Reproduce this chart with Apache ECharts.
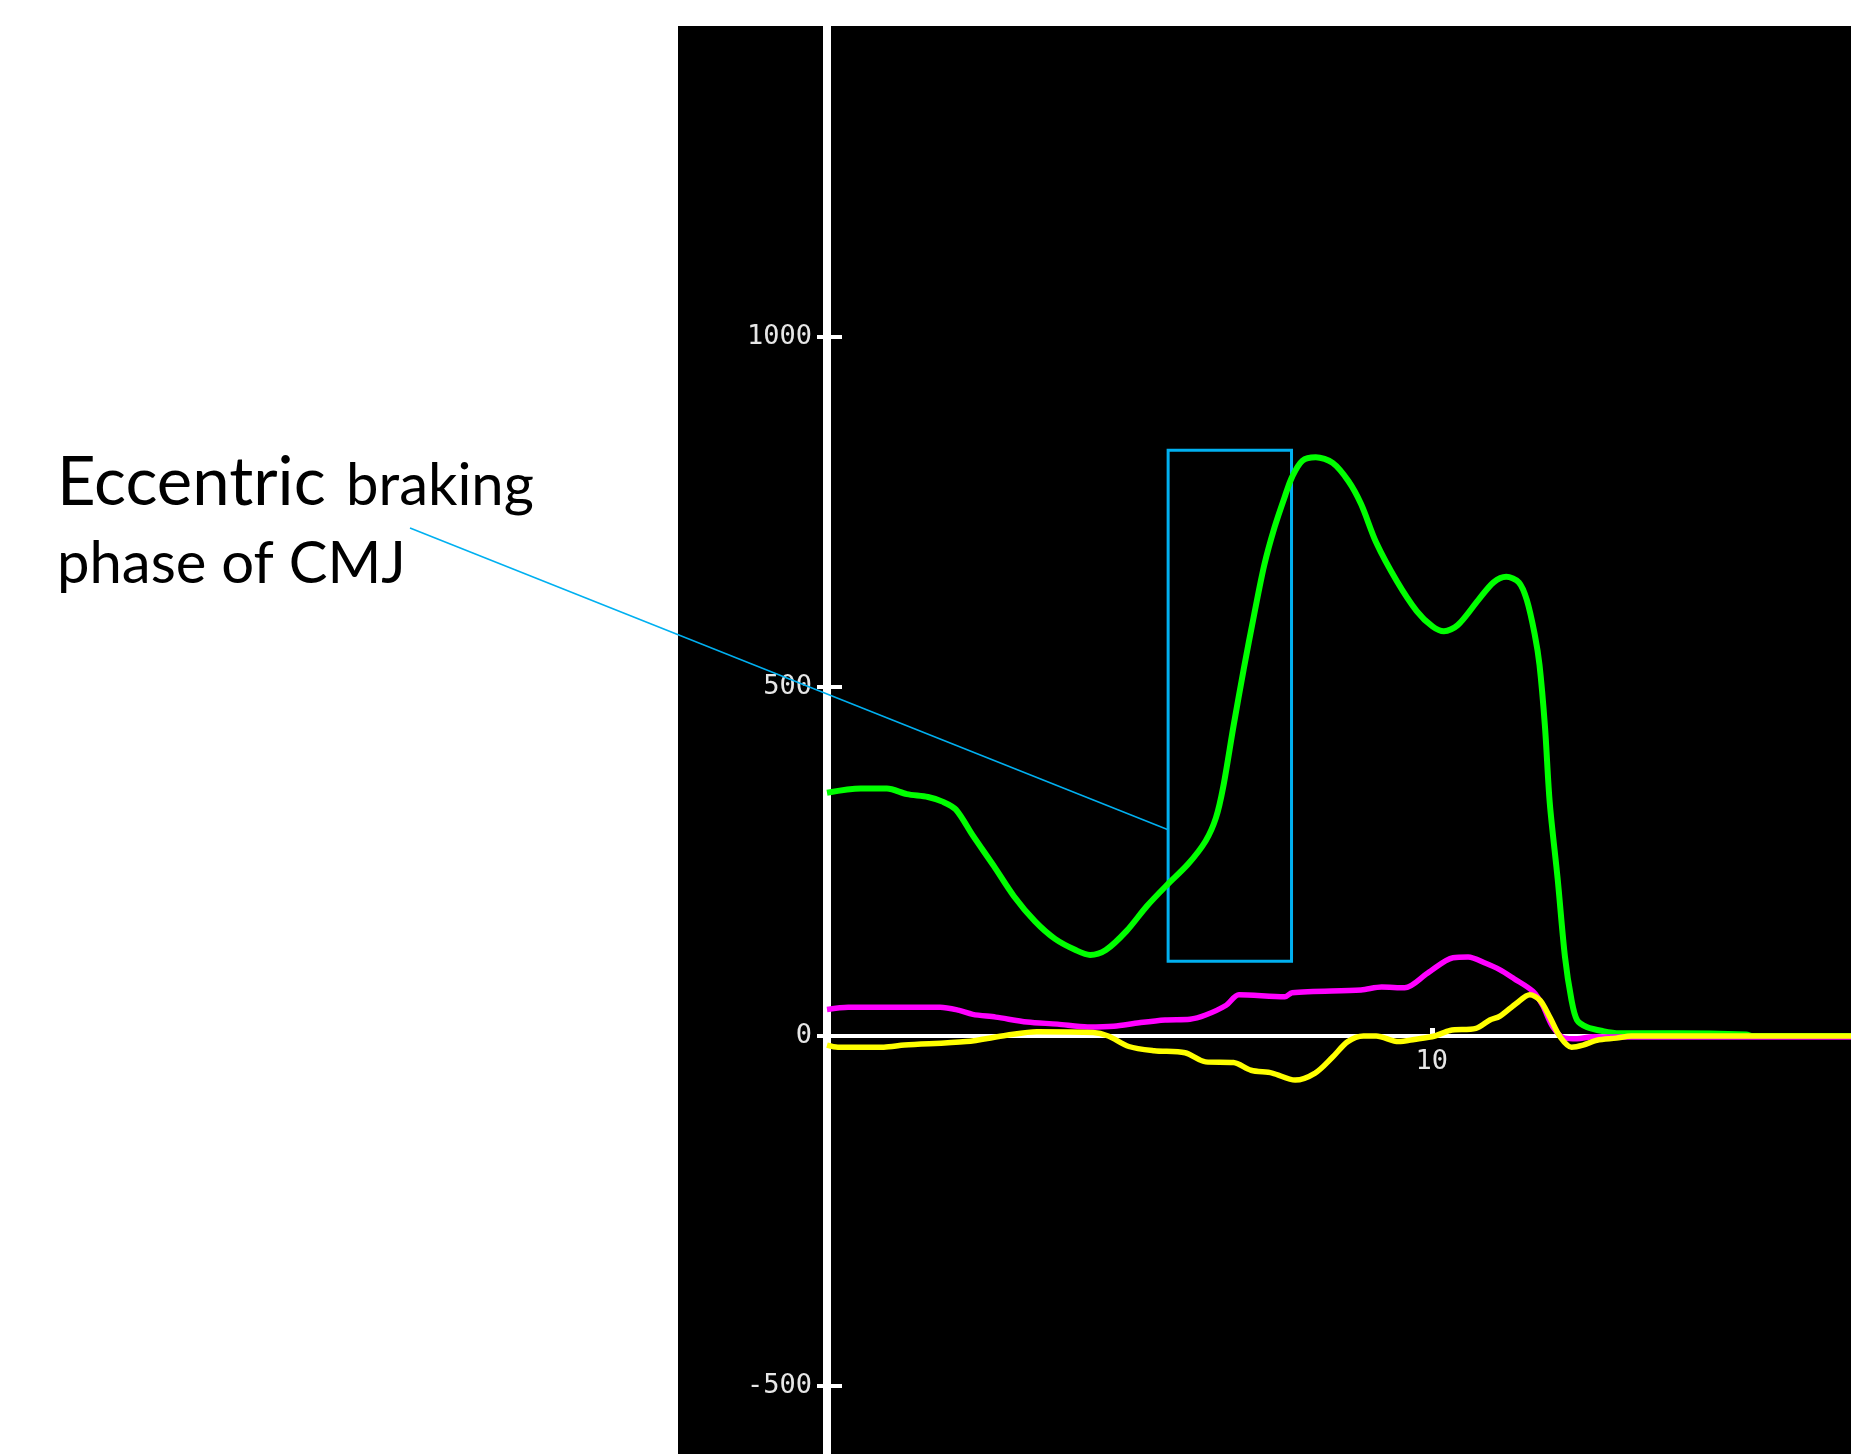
<!DOCTYPE html>
<html><head><meta charset="utf-8">
<script src="https://cdn.jsdelivr.net/npm/echarts@6/dist/echarts.min.js"></script>
<style>html,body{margin:0;padding:0;background:#fff;}#c{width:1851px;height:1454px;}</style>
</head><body><div id="c"></div>
<script>
// ---- data ----
const greenT = [0, 0.56, 0.99, 1.32, 1.67, 1.92, 2.13, 2.41, 2.76, 3.09, 3.44, 3.77, 4.11, 4.35, 4.61, 4.95, 5.29, 5.62, 5.97, 6.26, 6.43, 6.55, 6.72, 6.89, 7.06, 7.23, 7.40, 7.57, 7.69, 7.86, 8.08, 8.36, 8.62, 8.83, 9.08, 9.42, 9.75, 10.01, 10.20, 10.43, 10.77, 11.02, 11.23, 11.44, 11.57, 11.70, 11.78, 11.87, 11.95, 12.08, 12.20, 12.31, 12.40, 12.56, 12.83, 13.10, 14.05, 15.20, 15.30, 16.93];
const greenF = [348, 354, 354, 346, 342, 335, 324, 287, 243, 200, 164, 139, 123, 116, 123, 150, 186, 216, 246, 279, 312, 356, 443, 525, 602, 674, 728, 772, 800, 823, 828, 820, 794, 761, 706, 651, 608, 586, 579, 588, 624, 649, 657, 649, 624, 575, 531, 443, 333, 225, 114, 51, 23, 13, 7, 4, 4, 2, 0, 0];

const magentaT = [0, 0.35, 1.87, 2.17, 2.41, 2.79, 3.31, 3.81, 4.31, 4.74, 5.16, 5.59, 6.00, 6.26, 6.60, 6.81, 7.57, 7.69, 8.83, 9.17, 9.55, 9.93, 10.35, 10.60, 10.89, 11.12, 11.36, 11.67, 11.83, 12.00, 12.20, 12.40, 12.66, 13.05, 16.93];
const magentaF = [38, 41, 41, 37, 31, 27, 20, 17, 13, 14, 19, 23, 24, 30, 44, 59, 56, 62, 66, 70, 69, 90, 112, 113, 104, 95, 82, 64, 44, 13, -3, -4, -1, -1.5, -1.5];

const yellowT = [0, 0.18, 0.94, 1.28, 2.30, 2.97, 3.47, 4.40, 4.65, 4.99, 5.41, 5.92, 6.26, 6.72, 7.01, 7.36, 7.74, 8.07, 8.36, 8.61, 8.87, 9.08, 9.45, 9.71, 10.05, 10.30, 10.73, 10.96, 11.12, 11.40, 11.62, 11.79, 11.95, 12.12, 12.31, 12.50, 12.73, 13.05, 13.30, 16.93];
const yellowF = [-13, -16, -16, -13, -8, 1, 6, 5, 0, -15, -21, -24, -37, -38, -49, -53, -63, -53, -30, -8, 0, 0, -8, -5, 0, 8, 11, 23, 28, 47, 59, 51, 27, -1, -16, -13, -6, -3, 0, 0];

const yTickValues = [-500, 0, 500, 1000];
const xTickValues = [10];
const yMin = -598, yMax = 1445;
const boxT = [5.64, 7.68];      // eccentric braking phase box (time)
const boxF = [107, 838];        // box vertical extent (value)
const leaderF = 295;            // value where the leader line meets the box
const labelLine1a = 'Eccentric';
const labelLine1b = 'braking';
const labelLine2 = 'phase of CMJ';

const pairs = (xs, ys) => xs.map((x, i) => [x, ys[i]]);

const gridTop = 26, gridBottom = 0, chartH = 1454;
const plotH = chartH - gridTop - gridBottom;
// distance (px) from the bottom edge of the plot up to the value 0, so the x labels sit under the zero line
const zeroOffset = -plotH * (0 - yMin) / (yMax - yMin);

const chart = echarts.init(document.getElementById('c'), null, {renderer: 'canvas'});
const axisFont = {color: '#e6e6e6', fontFamily: 'DejaVu Sans Mono', fontSize: 27, formatter: v => String(v)};
const option = {
  backgroundColor: '#ffffff',
  animation: false,
  grid: {left: 827, right: 0, top: gridTop, bottom: gridBottom, containLabel: false, outerBoundsMode: 'none'},
  xAxis: [{
    type: 'value', min: 0, max: 16.93,
    axisLine: {show: true, onZero: true, lineStyle: {color: '#ffffff', width: 4}},
    axisTick: {show: true, inside: true, length: 8, customValues: xTickValues, lineStyle: {color: '#ffffff', width: 5}},
    axisLabel: {show: false},
    splitLine: {show: false}
  }, {
    type: 'value', min: 0, max: 16.93, position: 'bottom', offset: zeroOffset,
    axisLine: {show: false, onZero: false},
    axisTick: {show: false},
    axisLabel: Object.assign({show: true, margin: 12, customValues: xTickValues}, axisFont),
    splitLine: {show: false}
  }],
  yAxis: [{
    type: 'value', min: yMin, max: yMax,
    axisLine: {show: true, onZero: false, lineStyle: {color: '#ffffff', width: 8}},
    axisTick: {show: true, inside: false, length: 10, customValues: yTickValues, lineStyle: {color: '#ffffff', width: 4}},
    axisLabel: Object.assign({show: true, margin: 15, customValues: yTickValues}, axisFont),
    splitLine: {show: false}
  }, {
    type: 'value', min: yMin, max: yMax, position: 'left',
    axisLine: {show: false, onZero: false},
    axisTick: {show: true, inside: true, length: 15, customValues: yTickValues, lineStyle: {color: '#ffffff', width: 4}},
    axisLabel: {show: false},
    splitLine: {show: false}
  }],
  series: [
    {type: 'line', name: 'green', data: pairs(greenT, greenF), showSymbol: false, smooth: 0.3,
     lineStyle: {color: '#00ff00', width: 6}, z: 3,
     markArea: {silent: true, itemStyle: {color: 'rgba(0,0,0,0)', borderColor: '#00b0f0', borderWidth: 3},
       data: [[{coord: [boxT[0], boxF[1]]}, {coord: [boxT[1], boxF[0]]}]]}},
    {type: 'line', name: 'magenta', data: pairs(magentaT, magentaF), showSymbol: false, smooth: 0.3,
     lineStyle: {color: '#ff00ff', width: 5.5}, z: 4},
    {type: 'line', name: 'yellow', data: pairs(yellowT, yellowF), showSymbol: false, smooth: 0.3,
     lineStyle: {color: '#ffff00', width: 5.5}, z: 5}
  ],
  graphic: [
    {id: 'panel', type: 'rect', z: -10, silent: true, shape: {x: 678, y: 26, width: 1173, height: 1428}, style: {fill: '#000000'}},
    {id: 't1', type: 'text', z: 50, x: 57, y: 483, style: {text: labelLine1a, fill: '#000', font: '67px Lato', textAlign: 'left', textVerticalAlign: 'middle'}},
    {id: 't2', type: 'text', z: 50, x: 346, y: 486, style: {text: labelLine1b, fill: '#000', font: '58px Lato', textAlign: 'left', textVerticalAlign: 'middle'}},
    {id: 't3', type: 'text', z: 50, x: 57, y: 564, style: {text: labelLine2, fill: '#000', font: '58px Lato', textAlign: 'left', textVerticalAlign: 'middle'}}
  ]
};
chart.setOption(option);
const end = chart.convertToPixel({gridIndex: 0}, [boxT[0], leaderF]);
chart.setOption({graphic: [
  {id: 'leader', type: 'line', z: 60, silent: true, shape: {x1: 410, y1: 528, x2: end[0], y2: end[1]}, style: {stroke: '#00b0f0', lineWidth: 1.6}}
]});
</script></body></html>
